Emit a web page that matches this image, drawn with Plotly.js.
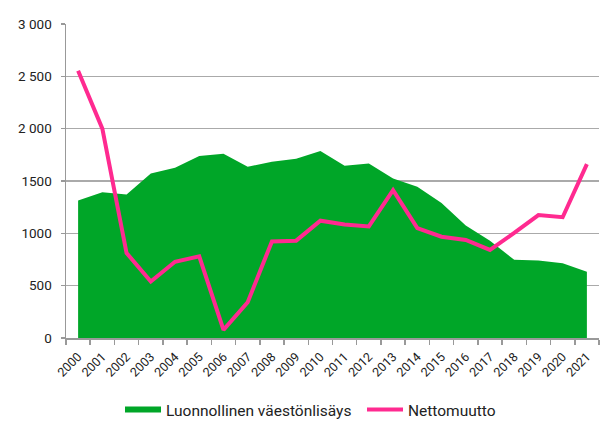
<!DOCTYPE html>
<html>
<head>
<meta charset="utf-8">
<script src="https://cdn.plot.ly/plotly-3.0.1.min.js"></script>
<style>html,body{margin:0;padding:0;background:#fff;}#chart{width:604px;height:428px;}</style>
</head>
<body>
<div id="chart"></div>
<script>
const years = ['2000','2001','2002','2003','2004','2005','2006','2007','2008','2009','2010','2011','2012','2013','2014','2015','2016','2017','2018','2019','2020','2021'];
const luonnollinen = [1313,1393,1371,1572,1626,1738,1760,1636,1684,1712,1787,1645,1668,1525,1445,1290,1075,930,747,741,715,633];
const nettomuutto = [2553,2000,812,540,728,780,77,342,923,930,1121,1085,1066,1413,1050,968,937,842,1004,1175,1154,1661];
const yTickVals = [0,500,1000,1500,2000,2500,3000];
const yTickText = ['0','500','1000','1500','2 000','2 500','3 000'];
const names = ['Luonnollinen väestönlisäys','Nettomuutto'];

const green = '#00a628';
const pink = '#ff2a90';

const data = [
  {x: years, y: luonnollinen, type: 'scatter', mode: 'lines', fill: 'tozeroy',
   fillcolor: green, line: {color: green, width: 0}, showlegend: false, hoverinfo: 'y'},
  {x: [null], y: [null], type: 'scatter', mode: 'lines', name: names[0],
   line: {color: green, width: 6}},
  {x: years, y: nettomuutto, type: 'scatter', mode: 'lines', name: names[1],
   line: {color: pink, width: 4}}
];

const layout = {
  width: 604, height: 428,
  margin: {l: 66, r: 5, t: 24, b: 90},
  paper_bgcolor: '#fff', plot_bgcolor: '#fff',
  font: {family: 'Roboto, Arial, sans-serif', size: 13, color: '#222'},
  xaxis: {type: 'category', range: [-0.5, 21.5], tickson: 'boundaries', ticks: 'outside', ticklen: 5,
          tickcolor: '#999', tickwidth: 1.5, showline: true, linecolor: '#999', linewidth: 1.5,
          showgrid: false, tickangle: -45, ticklabelstandoff: 5,
          tickfont: {size: 12.5, color: '#222'}, automargin: false},
  yaxis: {range: [0, 3000], tickvals: yTickVals, ticktext: yTickText, ticks: 'outside',
          ticklen: 4, tickcolor: '#999', tickwidth: 1.5, showline: true, linecolor: '#999',
          linewidth: 1.5, showgrid: true, gridcolor: '#aaa', gridwidth: 1.5, zeroline: false,
          ticklabelstandoff: 6,
          tickfont: {size: 13.5, color: '#222'}, automargin: false},
  legend: {orientation: 'h', x: 0.121, xanchor: 'left', yref: 'container', y: 0.042, yanchor: 'middle',
           font: {size: 15.5, color: '#222'}, entrywidth: 191, itemwidth: 36},
  showlegend: true
};

Plotly.newPlot('chart', data, layout, {staticPlot: true, displayModeBar: false});
</script>
</body>
</html>
